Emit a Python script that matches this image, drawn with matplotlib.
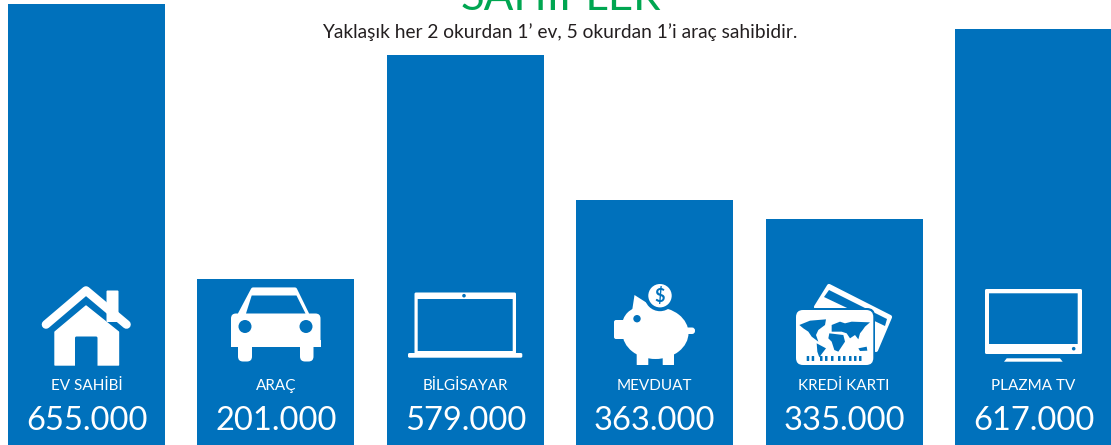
import numpy as np
import matplotlib
matplotlib.use("Agg")
import matplotlib.pyplot as plt
from matplotlib.patches import Polygon, Circle, Ellipse, FancyBboxPatch

# Data
categories = ["EV SAHİBİ", "ARAÇ", "BİLGİSAYAR", "MEVDUAT", "KREDİ KARTI", "PLAZMA TV"]
value_labels = ["655.000", "201.000", "579.000", "363.000", "335.000", "617.000"]
# bar heights (the original is not drawn to scale)
bar_heights = [441, 166, 390, 245, 226, 416]

BLUE = "#0071bc"
GREEN = "#00a651"
WHITE = "#ffffff"
W, H = 1111, 445

plt.rcParams['font.family'] = ['Lato', 'DejaVu Sans']

fig = plt.figure(figsize=(W / 100, H / 100), dpi=100)
ax = fig.add_axes([0, 0, 1, 1])
ax.set_xlim(0, W)
ax.set_ylim(0, H)
ax.axis("off")

x_pos = np.arange(len(categories)) * 189.4 + 86.5
ax.bar(x_pos, bar_heights, width=157, color=BLUE, zorder=1)


# Icons are placed in picture pixels (y measured from the top)
def flip(points):
    return [(x, H - y) for x, y in points]


def poly(points, color=WHITE, z=3, lw=0):
    ax.add_patch(Polygon(flip(points), closed=True, fc=color, ec=color, lw=lw,
                         joinstyle="round", zorder=z))


def rrect(x0, y0, x1, y1, r=1.5, color=WHITE, z=3):
    ax.add_patch(FancyBboxPatch((x0 + r, H - y1 + r), x1 - x0 - 2 * r, y1 - y0 - 2 * r,
                                boxstyle=f"round,pad={r},rounding_size={r}",
                                fc=color, ec="none", zorder=z))


def circ(x, y, r, color=WHITE, z=4):
    ax.add_patch(Circle((x, H - y), r, fc=color, ec="none", zorder=z))


# House
rx, ry = zip(*flip([(46, 324.5), (86, 290.5), (126.5, 324.5)]))
ax.plot(rx, ry, color=WHITE, lw=6.2, solid_capstyle="round", solid_joinstyle="round", zorder=3)
rrect(106.5, 290.5, 118.5, 322, r=1)
poly([(86, 306), (118.5, 332), (118.5, 365), (55, 365), (55, 332)], lw=1)
rrect(75, 336.5, 97.5, 368, r=1.5, color=BLUE, z=4)
ax.add_patch(Polygon(flip([(60, 365.5), (112, 365.5), (112, 372), (60, 372)]), fc=BLUE, ec="none", zorder=5))

# Car
poly([(253, 289.5), (295, 289.5), (307, 314), (240, 314)], lw=3)
poly([(251.7, 295.5), (296.5, 295.5), (305.5, 313.5), (246, 313.5)], color=BLUE, z=4)
rrect(231, 313.5, 320.5, 347, r=5)
ax.add_patch(Polygon(flip([(231, 340), (320.5, 340), (320.5, 347), (231, 347)]), fc=WHITE, ec="none", zorder=3))
circ(245, 326.5, 6.5, color=BLUE)
circ(306, 326.5, 6.5, color=BLUE)
rrect(238, 340, 252, 361.5, r=5)
rrect(300, 340, 313.5, 361.5, r=5)

# Laptop
rrect(414.5, 292.5, 516, 354, r=1.5)
rrect(417.7, 299, 512.7, 351, r=0.2, color=BLUE, z=4)
circ(464, 295.7, 1.8, color=BLUE)
rrect(408, 353, 522.3, 357.7, r=1.5)

# Piggy bank
ax.add_patch(Ellipse((655.5, H - 333), 66, 52, fc=WHITE, ec="none", zorder=3))
circ(641, 326, 19, z=3)
rrect(614, 320, 632, 339, r=2)
poly([(634.5, 295), (631, 318), (658, 310)])
rrect(680, 327.5, 695, 334, r=3)
rrect(636.7, 350, 648.3, 365, r=0.3)
rrect(662.7, 350, 674, 365, r=0.3)
circ(637, 318.7, 3.7, color=BLUE)
circ(660, 295.7, 15.5, color=BLUE, z=4)
circ(660, 295.7, 11.7, z=5)
ax.text(660, H - 296, "$", color=BLUE, fontsize=13, fontweight="bold", ha="center", va="center", zorder=6)

# Credit cards
poly([(829, 286), (890, 317), (876, 350), (816, 307)], lw=3)
poly([(829, 290), (887, 319), (885, 326), (824, 297)], color=BLUE, z=4)
rrect(794, 308, 875, 367, r=8, color=BLUE, z=5)
rrect(796, 310, 873.3, 365, r=7, z=6)
# rough continents on the front card, in crop-relative pixels
continents = [
    [(28, 135), (60, 122), (108, 118), (105, 135), (85, 150), (78, 165), (85, 185), (65, 170), (55, 155), (40, 145)],
    [(80, 190), (108, 205), (95, 222), (88, 232), (82, 215)],
    [(125, 155), (125, 135), (150, 125), (165, 130), (185, 125), (240, 127), (225, 140), (218, 150), (210, 160),
     (205, 178), (195, 165), (180, 175), (170, 160), (155, 155)],
    [(118, 160), (160, 165), (165, 185), (145, 215), (133, 210), (125, 185), (115, 175)],
    [(205, 205), (230, 200), (232, 212), (210, 213)],
]
for c in continents:
    poly([(790 + px / 3, 280 + py / 3) for px, py in c], color=BLUE, z=7)
for dx in [806.7, 811.7, 820, 825, 831, 838, 843, 849, 854, 859]:
    rrect(dx, 356, dx + 2.5, 361, r=0.4, color=BLUE, z=7)

# TV
rrect(985, 289, 1082, 354, r=1.5)
rrect(989, 293.3, 1077.7, 344, r=0.2, color=BLUE, z=4)
circ(1073.7, 348.7, 1.8, color=BLUE)
poly([(1004, 361.7), (1062.7, 361.7), (1060, 358.3), (1006.7, 358.3)])

# Labels
for x, cat, val in zip(x_pos, categories, value_labels):
    ax.text(x, H - 390, cat, color=WHITE, fontsize=11, ha="center", va="baseline", zorder=6)
    ax.text(x, H - 430, val, color=WHITE, fontsize=23.5, ha="center", va="baseline", zorder=6)

# Title cut off by the top edge
ax.text(561, H - 10, "SAHİPLER", color=GREEN, fontsize=31.5, ha="center", va="baseline")
ax.text(560, H - 38, "Yaklaşık her 2 okurdan 1’ ev, 5 okurdan 1’i araç sahibidir.",
        color="#231f20", fontsize=13.8, ha="center", va="baseline")

fig.savefig("out.png", dpi=100)
